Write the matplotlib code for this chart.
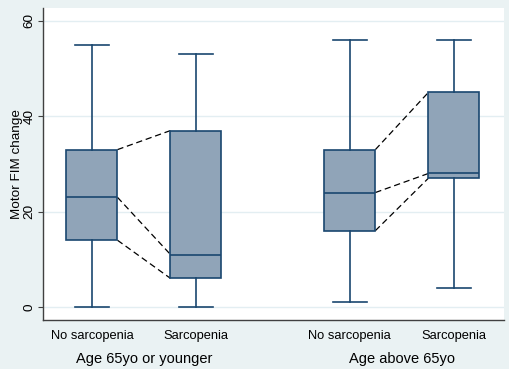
import matplotlib
matplotlib.use("Agg")
import matplotlib.pyplot as plt

# box statistics (Motor FIM change)
groups = ["Age 65yo or younger", "Age above 65yo"]
categories = ["No sarcopenia", "Sarcopenia", "No sarcopenia", "Sarcopenia"]
whisk_lo = [0, 0, 1, 4]
q1 = [14, 6, 16, 27]
median = [23, 11, 24, 28]
q3 = [33, 37, 33, 45]
whisk_hi = [55, 53, 56, 56]

positions = [1, 2, 3.48, 4.48]
navy = "#1A476F"
fill = "#90A4B8"
bg = "#EAF2F3"

plt.rcParams['font.family'] = ['Liberation Sans', 'DejaVu Sans']

fig = plt.figure(figsize=(5.1, 3.69), dpi=100, facecolor=bg)
ax = fig.add_axes([0.0843, 0.1328, 0.9037, 0.8455])
ax.set_facecolor("white")

stats = []
for i in range(len(categories)):
    stats.append({"whislo": whisk_lo[i], "q1": q1[i], "med": median[i],
                  "q3": q3[i], "whishi": whisk_hi[i], "fliers": []})

w = 0.49
ax.bxp(stats, positions=positions, widths=w, patch_artist=True, showfliers=False,
       boxprops=dict(facecolor=fill, edgecolor=navy, linewidth=1.2),
       medianprops=dict(color=navy, linewidth=1.2),
       whiskerprops=dict(color=navy, linewidth=1.2),
       capprops=dict(color=navy, linewidth=1.2),
       capwidths=0.33, zorder=3)

# dashed connectors between paired boxes
for a, b in [(0, 1), (2, 3)]:
    x0 = positions[a] + w / 2
    x1 = positions[b] - w / 2
    for s in (q1, median, q3):
        ax.plot([x0, x1], [s[a], s[b]], color="black", linestyle=(0, (5, 3)),
                linewidth=0.9, zorder=2)

ax.set_xlim(0.529, 4.961)
ax.set_ylim(-2.73, 62.7)
ax.set_yticks([0, 20, 40, 60])
ax.set_yticklabels(["0", "20", "40", "60"], rotation=90, va="center")
ax.grid(axis="y", color="#E3EEF2", linewidth=1.0, zorder=0)
ax.set_axisbelow(True)
ax.set_ylabel("Motor FIM change", fontsize=9.7)
ax.yaxis.set_label_coords(-0.044, 0.5)
ax.tick_params(axis="y", labelsize=9.7, length=3.8, color="#404040", pad=1.5)

ax.set_xticks(positions)
ax.set_xticklabels(categories, fontsize=9.3)
ax.tick_params(axis="x", length=0, pad=7)

for s in ("top", "right"):
    ax.spines[s].set_visible(False)
for s in ("left", "bottom"):
    ax.spines[s].set_color("#404040")
    ax.spines[s].set_linewidth(1.0)

centers = [(positions[0] + positions[1]) / 2, (positions[2] + positions[3]) / 2]
for c, g in zip(centers, groups):
    ax.text(c, -0.125, g, transform=ax.get_xaxis_transform(), ha="center",
            va="center", fontsize=10.5)

fig.savefig("out.png", dpi=100, facecolor=bg)
